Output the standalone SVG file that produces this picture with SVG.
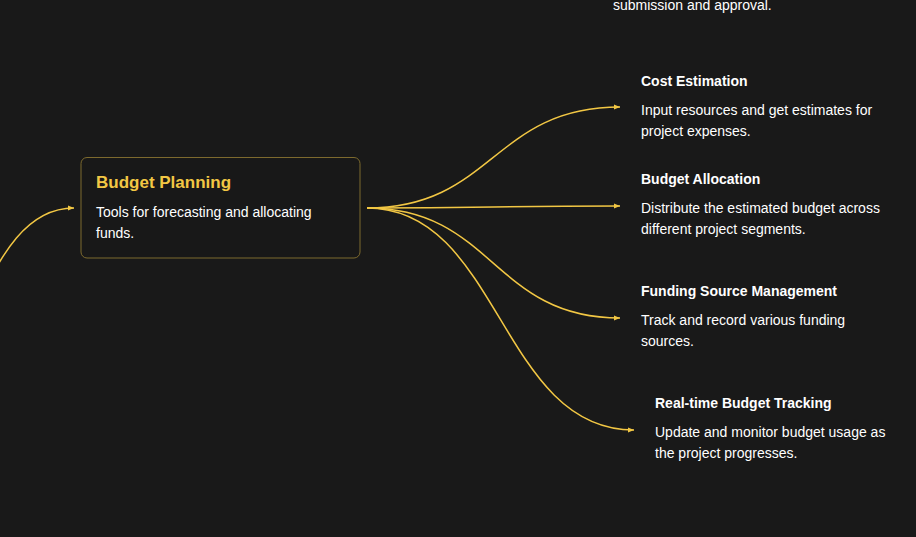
<svg xmlns="http://www.w3.org/2000/svg" width="916" height="537" viewBox="0 0 916 537">
<style>
.bg{fill:#191919}
.edge{fill:none;stroke:#f2c744;stroke-width:1.5}
.box{fill:#181818;stroke:#7d6a2e;stroke-width:1}
.title{font-family:"Liberation Sans",Arial,sans-serif;font-size:17px;font-weight:bold;fill:#f2c744}
.desc{font-family:"Liberation Sans",Arial,sans-serif;font-size:14px;fill:#ffffff}
.head{font-family:"Liberation Sans",Arial,sans-serif;font-size:14px;font-weight:bold;fill:#ffffff}
</style>
<defs>
<marker id="arr" viewBox="0 0 6 6" refX="6" refY="3" markerWidth="6" markerHeight="6" markerUnits="userSpaceOnUse" orient="auto">
<path d="M0,0.5 L6,3 L0,5.5 Z" fill="#f2c744"/>
</marker>
</defs>
<rect class="bg" x="0" y="0" width="916" height="537"/>
<g id="connectors">
<path class="edge" marker-end="url(#arr)" d="M -120 400 C -23 400 -23 208 74 208"/>
<path class="edge" marker-end="url(#arr)" d="M 367 208 C 493 208 493 107 620 107"/>
<path class="edge" marker-end="url(#arr)" d="M 367 208 C 493 208 493 206 620 206"/>
<path class="edge" marker-end="url(#arr)" d="M 367 208 C 493 208 493 318 620 318"/>
<path class="edge" marker-end="url(#arr)" d="M 367 208 C 500 208 500 430 634 430"/>
</g>
<g id="prev-item">
<text class="desc" x="613" y="10">submission and approval.</text>
</g>
<g id="budget-planning">
<rect class="box" x="81" y="157.5" width="279" height="100.5" rx="6"/>
<text class="title" x="96" y="188">Budget Planning</text>
<text class="desc" x="96" y="217">Tools for forecasting and allocating</text>
<text class="desc" x="96" y="238">funds.</text>
</g>
<g id="cost-estimation">
<text class="head" x="641" y="86">Cost Estimation</text>
<text class="desc" x="641" y="115">Input resources and get estimates for</text>
<text class="desc" x="641" y="136">project expenses.</text>
</g>
<g id="budget-allocation">
<text class="head" x="641" y="184">Budget Allocation</text>
<text class="desc" x="641" y="213">Distribute the estimated budget across</text>
<text class="desc" x="641" y="234">different project segments.</text>
</g>
<g id="funding-source">
<text class="head" x="641" y="296">Funding Source Management</text>
<text class="desc" x="641" y="325">Track and record various funding</text>
<text class="desc" x="641" y="346">sources.</text>
</g>
<g id="realtime-tracking">
<text class="head" x="655" y="408">Real-time Budget Tracking</text>
<text class="desc" x="655" y="437">Update and monitor budget usage as</text>
<text class="desc" x="655" y="458">the project progresses.</text>
</g>
</svg>
